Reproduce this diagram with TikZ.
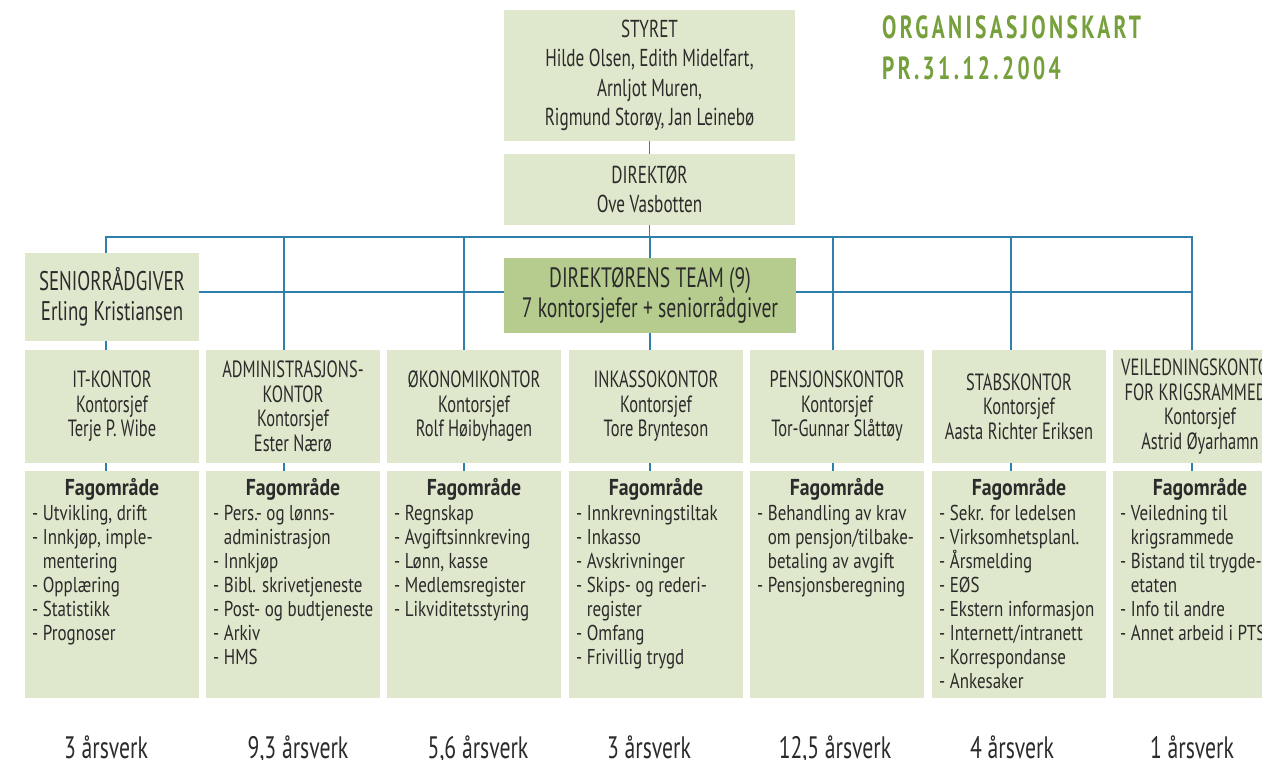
\documentclass[tikz,border=0pt]{standalone}
\usepackage{fontspec}
\setmainfont[FakeStretch=0.7]{PT Sans}
\newfontfamily\titlefont[FakeStretch=0.67,LetterSpace=10.5]{PT Sans}
\newfontfamily\itemfont[FakeStretch=0.79]{PT Sans}
\newfontfamily\fagfont[FakeStretch=0.86]{PT Sans}
\usetikzlibrary{calc,backgrounds}
\definecolor{boxfill}{HTML}{DFE8CC}
\definecolor{teamfill}{HTML}{B5CC8E}
\definecolor{linec}{HTML}{2F80AA}
\definecolor{titlec}{HTML}{76A03C}
\definecolor{txt}{HTML}{2B2B2B}
\newcommand\hind{\hphantom{-\ }}
\newcommand\faglist[3]{%
  \foreach \t [count=\i] in {#3} {\node[item] (#1-\i) at (#2+7,496+24*\i) {\t};}%
}
\begin{document}
\begin{tikzpicture}[x=1pt,y=-1pt,
  box/.style={fill=boxfill,inner sep=0pt,outer sep=0pt,text=txt,align=center},
  hdr/.style={box,minimum width=174,minimum height=113,font=\fontsize{23.5}{24.5}\selectfont},
  hdrtext/.style={inner sep=0pt,text=txt,align=center,font=\fontsize{23.5}{24.5}\selectfont},
  fag/.style={box,minimum width=174,minimum height=227},
  fagh/.style={anchor=base,inner sep=0pt,text=txt,font=\fagfont\fontsize{23}{24}\selectfont\bfseries},
  item/.style={anchor=base west,inner sep=0pt,text=txt,font=\itemfont\fontsize{21.5}{24}\selectfont},
  arsv/.style={anchor=base,inner sep=0pt,text=txt,font=\fontsize{31}{31}\selectfont},
  conn/.style={draw=linec,line width=1.8pt}]
\useasboundingbox (0,0) rectangle (1262,760);

% title
\node[anchor=base west,inner sep=0pt,text=titlec,font=\titlefont\fontsize{32}{32}\selectfont\bfseries] (title1) at (882,39) {ORGANISASJONSKART};
\node[anchor=base west,inner sep=0pt,text=titlec,font=\titlefont\fontsize{32}{32}\selectfont\bfseries] (title2) at (882,80) {PR.31.12.2004};

% top boxes
\node[box,minimum width=291,minimum height=131,font=\fontsize{24.5}{29.5}\selectfont] (styret) at (649.5,75.5)
  {STYRET\\Hilde Olsen, Edith Midelfart,\\Arnljot Muren,\\Rigmund Storøy, Jan Leinebø};
\node[box,minimum width=291,minimum height=71,font=\fontsize{24.5}{29.5}\selectfont] (dir) at (649.5,189.5)
  {DIREKTØR\\Ove Vasbotten};
\node[box,minimum width=174,minimum height=88,font=\fontsize{27}{30}\selectfont] (senior) at (112,297)
  {SENIORRÅDGIVER\\Erling Kristiansen};
\node[box,fill=teamfill,minimum width=292,minimum height=75,font=\fontsize{28}{30}\selectfont] (team) at (650,295.5)
  {DIREKTØRENS TEAM (9)\\7 kontorsjefer + seniorrådgiver};

% header boxes
\node[hdr] (h1) at (112,406.5) {IT-KONTOR\\Kontorsjef\\Terje P. Wibe};
\node[hdr] (h2) at (293,406.5) {ADMINISTRASJONS-\\KONTOR\\Kontorsjef\\Ester Nærø};
\node[hdr] (h3) at (474,406.5) {ØKONOMIKONTOR\\Kontorsjef\\Rolf Høibyhagen};
\node[hdr] (h4) at (656,406.5) {INKASSOKONTOR\\Kontorsjef\\Tore Brynteson};
\node[hdr] (h5) at (837,406.5) {PENSJONSKONTOR\\Kontorsjef\\Tor-Gunnar Slåttøy};
\node[hdr] (h6) at (1019,406.5) {STABSKONTOR\\Kontorsjef\\Aasta Richter Eriksen};
\node[hdr] (h7) at (1200,406.5) {};
\node[hdrtext] (h7t) at (h7.center) {VEILEDNINGSKONTOR\\FOR KRIGSRAMMEDE\\Kontorsjef\\Astrid Øyarhamn};

% fag boxes
\node[fag] (f1) at (112,584.5) {};
\node[fag] (f2) at (293,584.5) {};
\node[fag] (f3) at (474,584.5) {};
\node[fag] (f4) at (656,584.5) {};
\node[fag] (f5) at (837,584.5) {};
\node[fag] (f6) at (1019,584.5) {};
\node[fag] (f7) at (1200,584.5) {};
\foreach \c/\x in {1/112,2/293,3/474,4/656,5/837,6/1019,7/1200}
  {\node[fagh] (fh\c) at (\x,495) {Fagområde};}

\faglist{l1}{25}{{-\ Utvikling, drift},{-\ Innkjøp, imple-},{\hind mentering},{-\ Opplæring},{-\ Statistikk},{-\ Prognoser}}
\faglist{l2}{206}{{-\ Pers.- og lønns-},{\hind administrasjon},{-\ Innkjøp},{-\ Bibl. skrivetjeneste},{-\ Post- og budtjeneste},{-\ Arkiv},{-\ HMS}}
\faglist{l3}{387}{{-\ Regnskap},{-\ Avgiftsinnkreving},{-\ Lønn, kasse},{-\ Medlemsregister},{-\ Likviditetsstyring}}
\faglist{l4}{569}{{-\ Innkrevningstiltak},{-\ Inkasso},{-\ Avskrivninger},{-\ Skips- og rederi-},{\hind register},{-\ Omfang},{-\ Frivillig trygd}}
\faglist{l5}{750}{{-\ Behandling av krav},{\hind om pensjon/tilbake-},{\hind betaling av avgift},{-\ Pensjonsberegning}}
\faglist{l6}{932}{{-\ Sekr. for ledelsen},{-\ Virksomhetsplanl.},{-\ Årsmelding},{-\ EØS},{-\ Ekstern informasjon},{-\ Internett/intranett},{-\ Korrespondanse},{-\ Ankesaker}}
\faglist{l7}{1113}{{-\ Veiledning til},{\hind krigsrammede},{-\ Bistand til trygde-},{\hind etaten},{-\ Info til andre},{-\ Annet arbeid i PTS}}

% årsverk
\node[arsv] (a1) at (106,758) {3 årsverk};
\node[arsv] (a2) at (298,758) {9,3 årsverk};
\node[arsv] (a3) at (478,758) {5,6 årsverk};
\node[arsv] (a4) at (649,758) {3 årsverk};
\node[arsv] (a5) at (835,758) {12,5 årsverk};
\node[arsv] (a6) at (1012,758) {4 årsverk};
\node[arsv] (a7) at (1192,758) {1 årsverk};

% connectors
\coordinate (busy) at (0,237);
\coordinate (teamy) at (0,292);
\coordinate (d1) at (106,237);
\coordinate (d2) at (284,237);
\coordinate (d3) at (464,237);
\coordinate (d4) at (650,237);
\coordinate (d5) at (833,237);
\coordinate (d6) at (1011,237);
\coordinate (d7) at (1192,237);
\begin{scope}[on background layer]
  \fill[white] (0,0) rectangle (1262,760);
  \draw[conn] (styret.south) -- (dir.north);
  \draw[conn] (dir.south) -- (dir.south |- busy);
  \draw[conn] (d1 |- f1.north) -- (d1) -- (d7) -- (d7 |- f7.north);
  \foreach \i in {2,...,6} {\draw[conn] (d\i) -- (d\i |- f\i.north);}
  \draw[conn] (senior.east |- teamy) -- (d7 |- teamy);
\end{scope}
\end{tikzpicture}
\end{document}
